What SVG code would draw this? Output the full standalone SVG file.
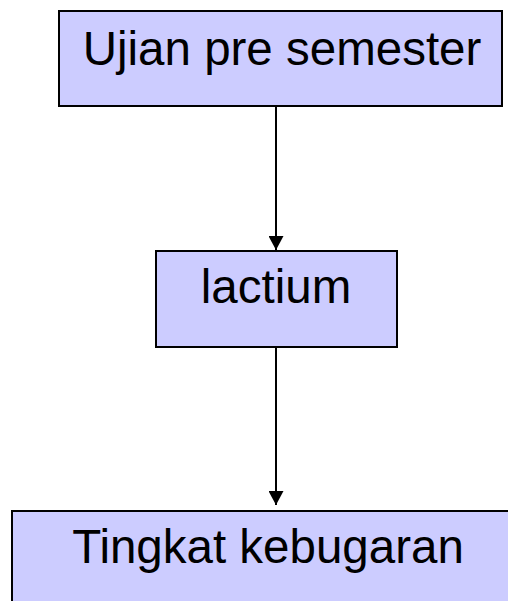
<svg xmlns="http://www.w3.org/2000/svg" width="508" height="601" viewBox="0 0 508 601">
<style>
.box{fill:#CCCCFF;stroke:#000;stroke-width:2}
.lbl{font-family:"Liberation Sans",Arial,sans-serif;font-size:47.5px;fill:#000;text-anchor:middle}
.edge{stroke:#000;stroke-width:2;fill:none}
</style>
<defs>
<marker id="arr" viewBox="0 0 14 15" refX="14" refY="7.5" markerWidth="14" markerHeight="15" markerUnits="userSpaceOnUse" orient="auto">
<path d="M0,0 L14,7.5 L0,15 Z" fill="#000"/>
</marker>
</defs>
<rect width="508" height="601" fill="#fff"/>
<g id="connectors">
<line class="edge" x1="276" y1="106" x2="276" y2="250" marker-end="url(#arr)"/>
<line class="edge" x1="276" y1="347" x2="276" y2="505" marker-end="url(#arr)"/>
</g>
<g id="node-ujian">
<rect class="box" x="59" y="11" width="443" height="95"/>
<text class="lbl" x="282" y="65">Ujian pre semester</text>
</g>
<g id="node-lactium">
<rect class="box" x="156" y="251" width="241" height="96"/>
<text class="lbl" x="276" y="303">lactium</text>
</g>
<g id="node-tingkat">
<rect class="box" x="12" y="511" width="520" height="120"/>
<text class="lbl" x="268" y="563">Tingkat kebugaran</text>
</g>
</svg>
